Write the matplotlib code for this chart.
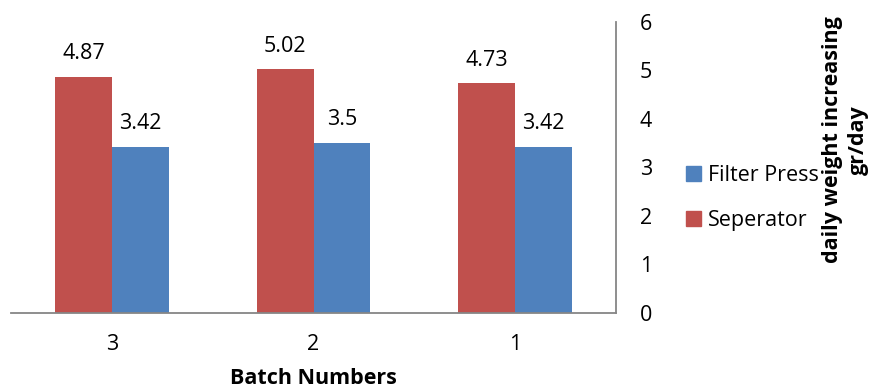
import matplotlib
matplotlib.use("Agg")
import matplotlib.pyplot as plt
import numpy as np
from matplotlib.patches import Patch

categories = ["3", "2", "1"]
seperator = [4.87, 5.02, 4.73]
filter_press = [3.42, 3.5, 3.42]
yticks = [0, 1, 2, 3, 4, 5, 6]

RED = "#C0504D"
BLUE = "#4F81BD"
GRAY = "#868686"
FONT = "Open Sans"
FS = 15.5

plt.rcParams["font.family"] = [FONT, "DejaVu Sans"]

W, H = 873, 388
fig = plt.figure(figsize=(W / 100, H / 100), dpi=100)
ax = fig.add_axes([11 / W, (H - 312.7) / H, (616 - 11) / W, (312.7 - 21.7) / H])

x = np.arange(len(categories))
bw = 0.282
b1 = ax.bar(x - bw / 2, seperator, bw, color=RED, label="Seperator")
b2 = ax.bar(x + bw / 2, filter_press, bw, color=BLUE, label="Filter Press")
ax.bar_label(b1, labels=[f"{v:g}" for v in seperator], padding=9, fontsize=FS)
ax.bar_label(b2, labels=[f"{v:g}" for v in filter_press], padding=9, fontsize=FS)

ax.set_xlim(-0.5, len(categories) - 0.5)
ax.set_ylim(0, 6)
ax.set_xticks(x)
ax.set_xticklabels(categories, fontsize=FS)
ax.set_yticks(yticks)
ax.set_yticklabels([str(t) for t in yticks], fontsize=FS)
ax.yaxis.tick_right()
ax.tick_params(axis="y", length=0, pad=17)
ax.tick_params(axis="x", length=0, pad=15)

for s in ["top", "left"]:
    ax.spines[s].set_visible(False)
for s in ["bottom", "right"]:
    ax.spines[s].set_color(GRAY)
    ax.spines[s].set_linewidth(1.3)

fig.text(313 / W, 1 - 378 / H, "Batch Numbers", ha="center", va="center",
         fontsize=15.5, fontweight="bold")

handles = [Patch(color=BLUE, label="Filter Press"), Patch(color=RED, label="Seperator")]
fig.legend(handles=handles, loc="center left", bbox_to_anchor=(686 / W, 1 - 198 / H),
           frameon=False, fontsize=FS, handlelength=0.7, handleheight=0.7,
           handletextpad=0.3, labelspacing=1.15, borderaxespad=0, borderpad=0)

fig.text(845 / W, 1 - 140 / H, "daily weight increasing\ngr/day", rotation=90,
         ha="center", va="center", fontsize=15.5, fontweight="bold",
         multialignment="center", linespacing=1.3)

fig.savefig("out.png", dpi=100)
